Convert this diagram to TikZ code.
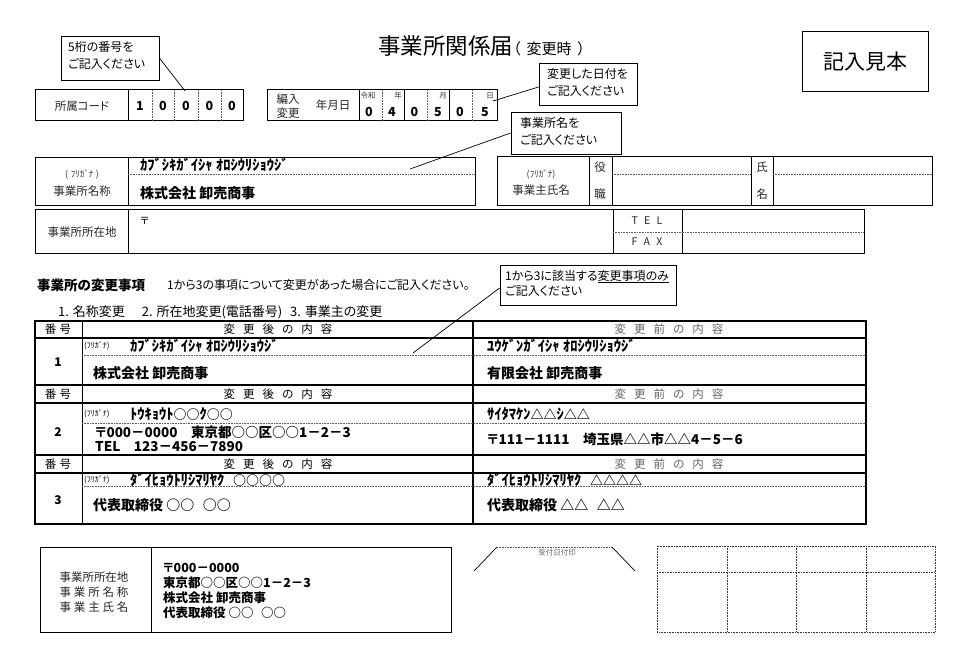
\documentclass[tikz,border=0pt]{standalone}
\usepackage{fontspec}
\setmainfont{Noto Sans CJK JP}[RawFeature=+palt]
\newcommand{\fs}[1]{\fontsize{#1}{#1}\selectfont}
\tikzset{
  box/.style={draw, line width=1pt},
  tline/.style={line width=1.3pt},
  inl/.style={line width=0.7pt},
  dotline/.style={densely dotted, line width=0.6pt, black!65},
  cbox/.style={draw, line width=0.8pt, fill=white, inner sep=0pt},
  ctext/.style={inner sep=0pt, anchor=north west, align=left, font=\fontsize{12}{17}\selectfont},
  lbl/.style={inner sep=0pt, font=\fs{11.5}, text=black!85},
  small/.style={inner sep=0pt, font=\fs{7.5}, text=black!80},
  dig/.style={inner sep=0pt, font=\fs{12.5}\bfseries},
  kana/.style={inner sep=0pt, anchor=west, font=\fs{14.5}\bfseries},
  bigb/.style={inner sep=0pt, anchor=west, font=\fs{14}\bfseries},
  midb/.style={inner sep=0pt, anchor=west, font=\fs{13.5}\bfseries},
  botb/.style={inner sep=0pt, anchor=west, font=\fs{12.5}\bfseries},
  hdr/.style={inner sep=0pt, font=\fs{11.5}},
  hdrg/.style={inner sep=0pt, font=\fs{11.5}, text=black!60},
  lead/.style={line width=0.7pt}
}
\begin{document}
\begin{tikzpicture}[x=1pt,y=-1pt]
\useasboundingbox (0,0) rectangle (964,671);
\fill[white] (0,0) rectangle (964,671);

% Title
\node[inner sep=0pt, anchor=base west] (title) at (378,55) {{\fs{22.5}事業所関係届}{\fs{15}（\hspace{0.4em}変更時\hspace{0.4em}）}};
\node[draw, line width=1pt, minimum width=126pt, minimum height=60pt, font=\fs{21}] (sample) at (865,62) {記入見本};

% 所属コード
\draw[box] (35,90) rectangle (243,121);
\draw[inl] (128,90) -- (128,121);
\foreach \x in {152,174,198,221} \draw[dotline] (\x,90) -- (\x,121);
\node[lbl] (shozoku) at (82,106) {所属コード};
\foreach \x/\d [count=\i] in {140/1,163/0,186/0,209.5/0,232/0} \node[dig] (sd\i) at (\x,106) {\d};

% 編入変更
\draw[box] (267,90) rectangle (497,121);
\foreach \x in {359,404,449} \draw[inl] (\x,90) -- (\x,121);
\foreach \x in {382,427,472} \draw[dotline] (\x,90) -- (\x,121);
\node[lbl] (hen1) at (288,99) {編入};
\node[lbl] (hen2) at (288,113) {変更};
\node[lbl] (ymd) at (333,105) {年月日};
\node[small] (sreiwa) at (368,96) {令和};
\node[small] (snen) at (398,96) {年};
\node[small] (stuki) at (443,96) {月};
\node[small] (shi) at (490,96) {日};
\foreach \x/\d [count=\i] in {369/0,392/4,414.5/0,438/5,460/0,485/5} \node[dig] (dd\i) at (\x,112) {\d};

% Callouts
\node[cbox, minimum width=98pt, minimum height=44pt] (c1) at (110,58) {};
\node[ctext] (c1t) at (68,41) {5桁の番号を\\ご記入ください};
\coordinate (p1) at (185,91);
\draw[lead] (c1.east) -- (p1);

\node[cbox, minimum width=98pt, minimum height=42pt] (c2) at (588,84) {};
\node[ctext] (c2t) at (547,68) {変更した日付を\\ご記入ください};
\coordinate (p2) at (493,101);
\draw[lead] ([yshift=-3pt]c2.west) -- (p2);

\node[cbox, minimum width=110pt, minimum height=42pt] (c3) at (566,133) {};
\node[ctext] (c3t) at (520,117) {事業所名を\\ご記入ください};
\coordinate (p3) at (410,169);
\draw[lead] (c3.west) -- (p3);

% 事業所名称
\draw[box] (35,158) rectangle (475,206);
\draw[inl] (128,158) -- (128,206);
\draw[dotline] (128,174) -- (475,174);
\node[small, font=\fs{9}] (f1) at (82,175) {(\hspace{0.3em}ﾌﾘｶﾞﾅ\hspace{0.3em})};
\node[lbl] (jmei) at (82,191) {事業所名称};
\node[kana] (kana1) at (140,165) {ｶﾌﾞｼｷｶﾞｲｼｬ ｵﾛｼｳﾘｼｮｳｼﾞ};
\node[bigb] (name1) at (140,193) {株式会社 卸売商事};

% 事業主氏名
\draw[box] (497,157) rectangle (932,206);
\foreach \x in {589,612,751,773} \draw[inl] (\x,157) -- (\x,206);
\draw[dotline] (612,174) -- (751,174);
\draw[dotline] (773,174) -- (932,174);
\node[small, font=\fs{9}] (f2) at (541,175) {(ﾌﾘｶﾞﾅ)};
\node[lbl] (jnushi) at (541,190) {事業主氏名};
\node[lbl] (yaku) at (600,167) {役};
\node[lbl] (shoku) at (600,194) {職};
\node[lbl] (shi1) at (762,167) {氏};
\node[lbl] (mei1) at (762,194) {名};

% 事業所所在地
\draw[box] (35,210) rectangle (864,254);
\foreach \x in {128,613,682} \draw[inl] (\x,210) -- (\x,254);
\draw[dotline] (613,232) -- (864,232);
\node[lbl] (jloc) at (82,232) {事業所所在地};
\node[inner sep=0pt, anchor=west, font=\fs{10}] (yubin) at (140,221) {〒};
\node[lbl, font=\fs{10.5}] (tel) at (647,221) {T\hspace{0.6em}E\hspace{0.6em}L};
\node[lbl, font=\fs{10.5}] (fax) at (647,242) {F\hspace{0.6em}A\hspace{0.6em}X};

% Section header
\node[inner sep=0pt, anchor=west, font=\fs{13.5}\bfseries] (sec) at (37,285) {事業所の変更事項};
\node[inner sep=0pt, anchor=west, font=\fs{12}] (secnote) at (167,285) {1から3の事項について変更があった場合にご記入ください。};
\node[inner sep=0pt, anchor=west, font=\fs{13}] (seclist) at (58,312) {1. 名称変更\hspace{1.3em}2. 所在地変更(電話番号)\hspace{0.6em}3. 事業主の変更};

\node[cbox, minimum width=176pt, minimum height=40pt] (c4) at (588,285) {};
\node[ctext, font=\fontsize{12}{15}\selectfont] (c4t) at (505,270) {1から3に該当する\underline{変更事項のみ}\\ご記入ください};
\coordinate (p4) at (413,353);
\draw[lead] ([yshift=-3pt]c4.west) -- (p4);

% Change table
\foreach \y in {338,385,403,455,473} \draw[tline] (35,\y) -- (866,\y);
\draw[inl] (82,321) -- (82,524);
\draw[tline] (473,321) -- (473,524);
\foreach \y in {355,423,486} \draw[dotline] (82,\y) -- (866,\y);
\draw[tline] (35,321) rectangle (866,524);

\foreach \y/\n in {329.5/1,394/2,464/3} {
  \node[hdr] (bango\n) at (58,\y) {番\hspace{0.3em}号};
  \node[hdr] (after\n) at (278,\y) {変\hspace{0.7em}更\hspace{0.7em}後\hspace{0.7em}の\hspace{0.7em}内\hspace{0.7em}容};
  \node[hdrg] (before\n) at (669,\y) {変\hspace{0.7em}更\hspace{0.7em}前\hspace{0.7em}の\hspace{0.7em}内\hspace{0.7em}容};
}
\foreach \y/\n in {346/1,414/2,479.5/3} \node[inner sep=0pt, anchor=west, font=\fs{8}] (furi\n) at (84,\y) {(ﾌﾘｶﾞﾅ)};

% Row 1
\node[dig, font=\fs{12}\bfseries] (no1) at (58,362) {1};
\node[kana] (r1k) at (130,346) {ｶﾌﾞｼｷｶﾞｲｼｬ ｵﾛｼｳﾘｼｮｳｼﾞ};
\node[bigb] (r1a) at (93,373) {株式会社 卸売商事};
\node[kana] (r1kb) at (487,346) {ﾕｳｹﾞﾝｶﾞｲｼｬ ｵﾛｼｳﾘｼｮｳｼﾞ};
\node[bigb] (r1b) at (487,373) {有限会社 卸売商事};

% Row 2
\node[dig, font=\fs{12}\bfseries] (no2) at (58,432) {2};
\node[kana] (r2k) at (130,414) {ﾄｳｷｮｳﾄ{\fs{13}○○}ｸ{\fs{13}○○}};
\node[midb] (r2a) at (95,432) {〒000－0000　東京都○○区○○1－2－3};
\node[midb] (r2t) at (95,447) {TEL　123－456－7890};
\node[kana] (r2kb) at (487,414) {ｻｲﾀﾏｹﾝ{\fs{13}△△}ｼ{\fs{13}△△}};
\node[midb] (r2b) at (487,439) {〒111－1111　埼玉県△△市△△4－5－6};

% Row 3
\node[dig, font=\fs{12}\bfseries] (no3) at (58,500) {3};
\node[kana] (r3k) at (130,479.5) {ﾀﾞｲﾋｮｳﾄﾘｼﾏﾘﾔｸ\hspace{0.6em}{\fs{13}○○○○}};
\node[bigb] (r3a) at (93,505) {代表取締役 ○○\hspace{0.6em}○○};
\node[kana] (r3kb) at (487,479.5) {ﾀﾞｲﾋｮｳﾄﾘｼﾏﾘﾔｸ\hspace{0.6em}{\fs{13}△△△△}};
\node[bigb] (r3b) at (487,505) {代表取締役 △△\hspace{0.6em}△△};

% Bottom-left box
\draw[box] (40,547) rectangle (451,632);
\draw[inl] (151,547) -- (151,632);
\node[lbl] (bl1) at (94,577) {事業所所在地};
\node[lbl] (bl2) at (94,592) {事\hspace{0.25em}業\hspace{0.25em}所\hspace{0.25em}名\hspace{0.25em}称};
\node[lbl] (bl3) at (94,607) {事\hspace{0.25em}業\hspace{0.25em}主\hspace{0.25em}氏\hspace{0.25em}名};
\node[botb] (bc1) at (163,568) {〒000－0000};
\node[botb] (bc2) at (163,583) {東京都○○区○○1－2－3};
\node[botb] (bc3) at (163,598) {株式会社 卸売商事};
\node[botb] (bc4) at (163,613) {代表取締役 ○○\hspace{0.6em}○○};

% 受付日付印
\coordinate (u1) at (474,571);
\coordinate (u2) at (497,547);
\coordinate (u3) at (612,547);
\coordinate (u4) at (635,571);
\draw[inl] (u1) -- (u2);
\draw[dotline] (u2) -- (u3);
\draw[inl] (u3) -- (u4);
\node[small, text=black!60] (uke) at (557,553) {受付日付印};

% Dotted grid
\draw[dotline, black!80] (657,546) rectangle (935,632);
\foreach \x in {727,796,866} \draw[dotline, black!80] (\x,546) -- (\x,632);
\draw[dotline, black!80] (657,572) -- (935,572);
\end{tikzpicture}
\end{document}
